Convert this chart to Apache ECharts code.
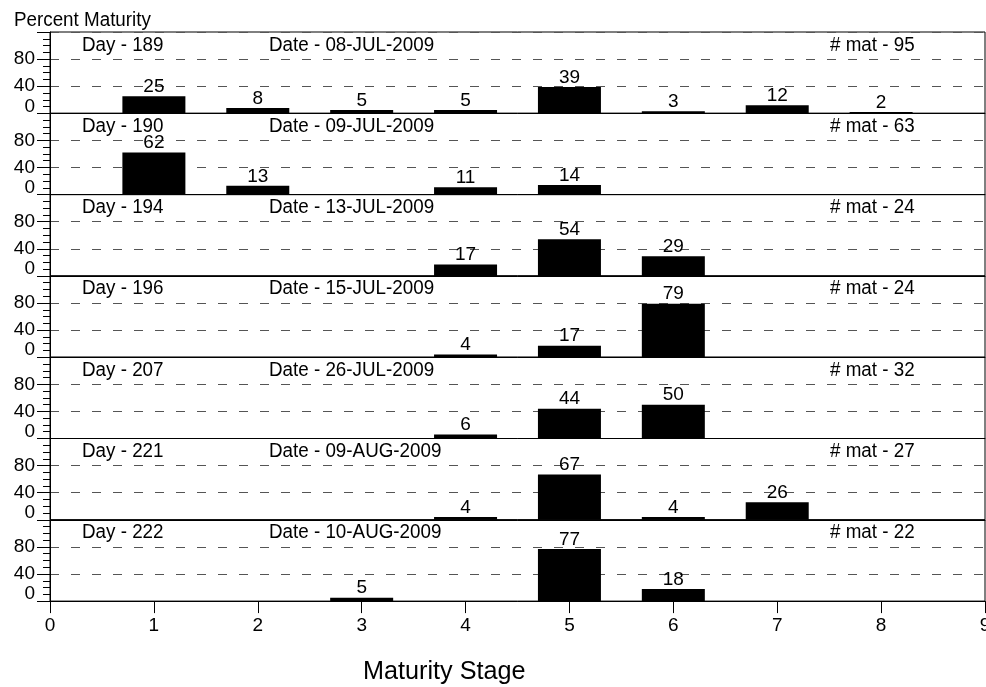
<!DOCTYPE html>
<html><head><meta charset="utf-8">
<script src="https://cdn.jsdelivr.net/npm/echarts@6/dist/echarts.min.js"></script>
<style>html,body{margin:0;padding:0;background:#fff}#c{width:986px;height:687px}</style>
</head><body><div id="c"></div>
<script>
const days = ['189','190','194','196','207','221','222'];
const dates = ['08-JUL-2009','09-JUL-2009','13-JUL-2009','15-JUL-2009','26-JUL-2009','09-AUG-2009','10-AUG-2009'];
const matCounts = ['95','63','24','24','32','27','22'];
const stages = [1,2,3,4,5,6,7,8];
const panel1 = [25,8,5,5,39,3,12,2];
const panel2 = [62,13,null,11,14,null,null,null];
const panel3 = [null,null,null,17,54,29,null,null];
const panel4 = [null,null,null,4,17,79,null,null];
const panel5 = [null,null,null,6,44,50,null,null];
const panel6 = [null,null,null,4,67,4,26,null];
const panel7 = [null,null,5,null,77,18,null,null];
const panels = [panel1,panel2,panel3,panel4,panel5,panel6,panel7];
const yTicks = [0,40,80];

const FONT = '"Liberation Sans", Arial, sans-serif';
const FS = 19;
const left = 50, right = 1, top0 = 32, ph = 81.3;
const grids = [], xAxes = [], yAxes = [], series = [], graphics = [];
panels.forEach((vals, i) => {
  const top = top0 + ph * i;
  const last = i === panels.length - 1;
  grids.push({left: left, right: right, top: top, height: ph, show: true, borderColor: '#000', borderWidth: 1,
    backgroundColor: 'transparent', containLabel: false, outerBoundsMode: 'none'});
  xAxes.push({type: 'value', gridIndex: i, min: 0, max: 9, interval: 1,
    axisLine: {show: true, lineStyle: {color: '#000'}},
    axisTick: {show: last, length: 12, lineStyle: {color: '#000'}},
    axisLabel: {show: last, color: '#000', fontSize: FS, fontFamily: FONT, margin: 15, showMaxLabel: true, showMinLabel: true},
    splitLine: {show: false}});
  yAxes.push({type: 'value', gridIndex: i, min: 0, max: 120, interval: 40,
    axisLine: {show: true, lineStyle: {color: '#000'}},
    axisTick: {show: true, length: 13, lineStyle: {color: '#000'}},
    minorTick: {show: true, splitNumber: 4, length: 7, lineStyle: {color: '#000'}},
    axisLabel: {color: '#000', fontSize: FS, fontFamily: FONT, margin: 15,
      formatter: v => yTicks.indexOf(v) >= 0 ? (v === 0 ? '{z|0}' : String(v)) : '',
      rich: {z: {fontSize: FS, fontFamily: FONT, color: '#000', padding: [0, 0, 14, 0]}}},
    splitLine: {show: true, lineStyle: {color: '#555', type: [9, 12], width: 1}}});
  series.push({type: 'bar', xAxisIndex: i, yAxisIndex: i,
    data: stages.map((s, k) => vals[k] == null ? null : [s, vals[k]]).filter(d => d),
    barWidth: 63, itemStyle: {color: '#000'},
    label: {show: true, position: 'top', distance: 0, color: '#000', fontSize: FS, fontFamily: FONT}});
  const ty = top + 3;
  const ts = {font: '20px ' + FONT, fill: '#000'};
  graphics.push({type: 'text', x: 82, y: ty, scaleX: 0.94, style: Object.assign({text: 'Day - ' + days[i]}, ts)});
  graphics.push({type: 'text', x: 269, y: ty, scaleX: 0.94, style: Object.assign({text: 'Date - ' + dates[i]}, ts)});
  graphics.push({type: 'text', x: 830, y: ty, scaleX: 0.94, style: Object.assign({text: '# mat - ' + matCounts[i]}, ts)});
});
graphics.push({type: 'text', x: 14, y: 10, scaleX: 0.94, style: {text: 'Percent Maturity', font: '20px ' + FONT, fill: '#000'}});
graphics.push({type: 'text', x: 363, y: 659, scaleX: 0.97, style: {text: 'Maturity Stage', font: '26px ' + FONT, fill: '#000'}});

const chart = echarts.init(document.getElementById('c'), null, {renderer: 'canvas'});
chart.setOption({animation: false, grid: grids, xAxis: xAxes, yAxis: yAxes, series: series, graphic: graphics});
</script></body></html>
